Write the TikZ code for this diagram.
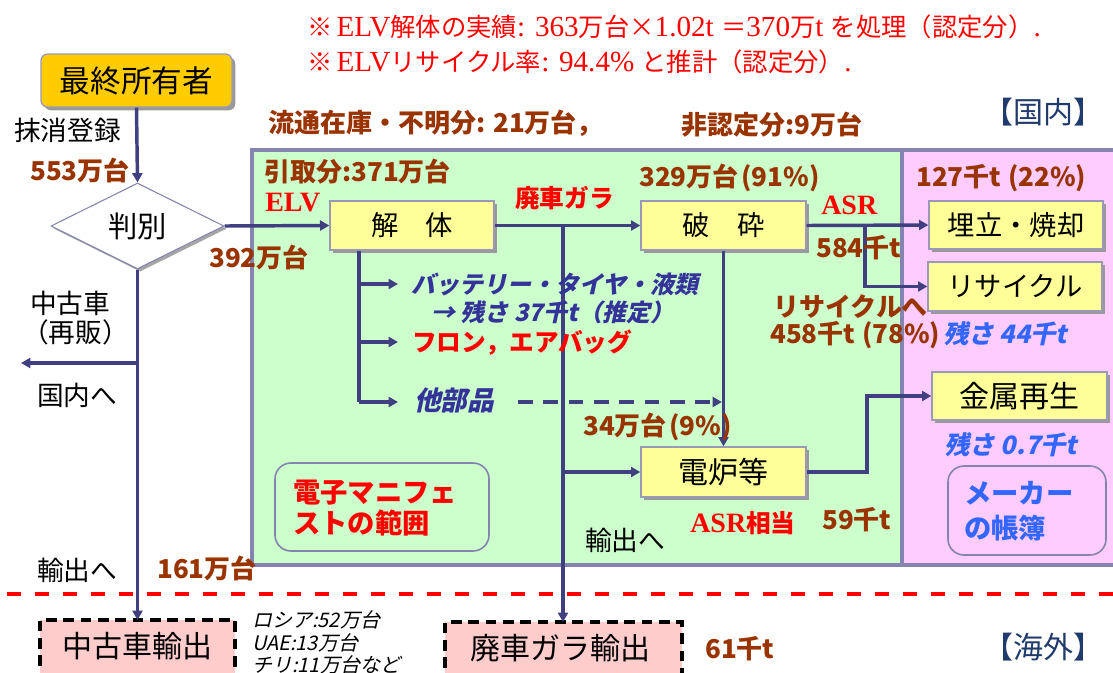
\documentclass[tikz,border=0pt]{standalone}
\usepackage{fontspec}
\setmainfont{Noto Sans CJK JP}
\newfontfamily\tnr{Liberation Serif}[Scale=1.15]
\newfontfamily\tnrb{Liberation Serif}
\newfontfamily\jpit{Noto Sans CJK JP}[FakeSlant=0.22]
\usetikzlibrary{shapes.geometric,arrows.meta,shadows}
\definecolor{brn}{HTML}{993300}
\definecolor{navy}{HTML}{404080}
\definecolor{lgreen}{HTML}{CCFFCC}
\definecolor{lpink}{HTML}{FFCCFF}
\definecolor{boxy}{HTML}{FFFF99}
\definecolor{gold}{HTML}{FFCC00}
\definecolor{regframe}{HTML}{8484AE}
\definecolor{bframe}{HTML}{9A9AB8}
\definecolor{pinkbox}{HTML}{FFCCCC}
\definecolor{lblue}{HTML}{3366FF}
\definecolor{dblue}{HTML}{333399}
\definecolor{hdblue}{HTML}{1F3A6B}
\tikzset{
  flow/.style={draw=navy, line width=2.6pt},
  arr/.style={flow, -{Triangle[length=7pt,width=7.5pt]}},
  shad/.style={drop shadow={opacity=1, fill=black!40, shadow xshift=2.5pt, shadow yshift=-2.5pt}},
  ybox/.style={draw=bframe, line width=1pt, fill=boxy, shad, inner sep=0pt,
    minimum width=124pt, minimum height=36.5pt, font=\fontsize{20.5}{24}\selectfont},
  gbox/.style={draw=bframe, line width=1pt, fill=gold, shad, rounded corners=5pt, inner sep=0pt,
    font=\fontsize{23}{27}\selectfont},
  dia/.style={diamond, draw=regframe, line width=0.8pt, fill=white, inner sep=0pt,
    drop shadow={opacity=1, fill=black!35, shadow xshift=2pt, shadow yshift=-2pt},
    font=\fontsize{22}{26}\selectfont},
  dfill/.style={fill=pinkbox, inner sep=0pt},
  dline/.style={draw=black, line width=3pt, dash pattern=on 8pt off 5pt},
  rbox/.style={draw=regframe, line width=1.2pt, rounded corners=12pt, inner sep=0pt},
  lbl/.style={anchor=west, inner sep=0pt, font=\fontsize{20}{23}\selectfont},
  bl/.style={anchor=west, inner sep=0pt, text=brn, font=\fontsize{19.5}{22}\selectfont\bfseries},
  rl/.style={anchor=west, inner sep=0pt, text=red, font=\fontsize{18.5}{22}\selectfont\bfseries},
  il/.style={anchor=west, inner sep=0pt, text=dblue, font=\fontsize{18}{21}\selectfont\jpit\bfseries},
  ll/.style={anchor=west, inner sep=0pt, text=lblue, font=\fontsize{19}{22}\selectfont\jpit\bfseries},
  sl/.style={anchor=west, inner sep=0pt, font=\fontsize{15}{17}\selectfont\jpit},
  hl/.style={anchor=west, inner sep=0pt, text=hdblue, font=\fontsize{22.5}{26}\selectfont},
  tl/.style={anchor=west, inner sep=0pt, text=red, font=\fontsize{19}{22}\selectfont},
  serl/.style={anchor=west, inner sep=0pt, text=red, font=\fontsize{21}{24}\selectfont\tnrb\bfseries},
}
\begin{document}
\begin{tikzpicture}[x=0.75pt,y=-0.75pt]
\useasboundingbox (0,0) rectangle (1113,672);
\clip (0,0) rectangle (1113,672);
% regions
\fill[lgreen] (252,150) rectangle (902,565);
\fill[lpink] (902,150) rectangle (1125,565);
\draw[regframe, line width=2.4pt] (1125,150) -- (252,150) -- (252,565) -- (1125,565);
\draw[regframe, line width=2.4pt] (902,150) -- (902,565);
% red dashed border line
\draw[red, line width=3pt, dash pattern=on 10.5pt off 10.5pt] (7,594) -- (1113,594);

% top notes
\node[tl] (note1) at (307,27) {※\hspace{3pt}{\tnr ELV}解体の実績{\tnr : 363}万台×{\tnr 1.02t }＝{\tnr 370}万{\tnr t }を処理（認定分）{\tnr .}};
\node[tl] (note2) at (307,62) {※\hspace{3pt}{\tnr ELV}リサイクル率{\tnr : 94.4\% }と推計（認定分）{\tnr .}};

% main nodes
\node[gbox, minimum width=143.25pt, minimum height=39.75pt] (owner) at (136.5,80.5) {最終所有者};
\node[dia, minimum width=129.75pt, minimum height=64.5pt] (hanbetsu) at (137.5,226) {判別};
\node[ybox, minimum width=123pt, minimum height=36.75pt] (kaitai) at (412,225.5) {解\hspace{1em}体};
\node[ybox, minimum width=123.75pt, minimum height=36.75pt] (hasai) at (723.5,225.5) {破\hspace{1em}砕};
\node[ybox, minimum width=130.5pt, minimum height=36pt] (umetate) at (1016,225) {埋立・焼却};
\node[ybox, minimum width=130.5pt, minimum height=36.75pt] (recycle) at (1015,286.5) {リサイクル};
\node[ybox, minimum width=131.25pt, minimum height=36pt, font=\fontsize{22.5}{26}\selectfont] (kinzoku) at (1019.5,396) {金属再生};
\node[ybox, minimum width=123.75pt, minimum height=37.5pt, font=\fontsize{22.5}{26}\selectfont] (denro) at (723.5,472) {電炉等};

\node[rbox, fill=lgreen, minimum width=160.5pt, minimum height=66pt] (manif) at (382,507) {};
\node[anchor=west, inner sep=0pt, align=left, text=red, font=\fontsize{20.5}{23.5}\selectfont\bfseries] (maniftxt) at (293,508) {電子マニフェ\\ストの範囲};
\node[rbox, fill=lpink, minimum width=118.5pt, minimum height=66.75pt] (maker) at (1027,510.5) {};
\node[anchor=west, inner sep=0pt, align=left, text=lblue, font=\fontsize{20.5}{26}\selectfont\bfseries] (makertxt) at (964,511) {メーカー\\の帳簿};

% export boxes (bottom edge lies below the picture)
\node[dfill, anchor=north, minimum width=146.25pt, minimum height=60pt] (usedx) at (137.5,620) {};
\draw[dline] (usedx.south west) -- (usedx.north west) -- (usedx.north east) -- (usedx.south east);
\node[inner sep=0pt, font=\fontsize{22.5}{26}\selectfont] (usedxt) at (137.5,646) {中古車輸出};
\node[dfill, anchor=north, minimum width=177.75pt, minimum height=60pt] (garax) at (563.5,622) {};
\draw[dline] (garax.south west) -- (garax.north west) -- (garax.north east) -- (garax.south east);
\node[inner sep=0pt, font=\fontsize{22.5}{26}\selectfont] (garaxt) at (560,648) {廃車ガラ輸出};

% connectors
\draw[arr] (owner.south) -- (hanbetsu.north);
\draw[arr] (hanbetsu.east) -- (kaitai.west);
\draw[arr] (hanbetsu.south) -- (usedx.north);
\coordinate (left) at (21,363);
\draw[arr] (left -| hanbetsu.south) -- (left);
\draw[arr] (kaitai.east) -- (hasai.west);
\coordinate (g1) at (563,225.5);
\draw[arr] (g1) -- (g1 |- garax.north);
\draw[arr] (g1 |- denro.west) -- (denro.west);
\coordinate (k3) at (359,402);
\coordinate (t1) at (398,284);
\coordinate (t2) at (398,342);
\coordinate (t3) at (398,402);
\draw[flow] (kaitai.south -| k3) -- (k3);
\draw[arr] (t1 -| k3) -- (t1);
\draw[arr] (t2 -| k3) -- (t2);
\draw[arr] (k3) -- (t3);
\coordinate (d0) at (518,402);
\draw[arr, dash pattern=on 11pt off 8pt] (d0) -- ([xshift=-1.2pt]hasai.south |- d0);
\draw[arr] (hasai.south) -- (denro.north);
\draw[arr] (hasai.east) -- (umetate.west);
\coordinate (a1) at (865,225);
\draw[arr] (a1) |- (recycle.west);
\coordinate (m1) at (867,472);
\draw[arr] (denro.east) -- (m1) |- (kinzoku.west);

% labels
\node[lbl] (l-massho) at (14,130) {抹消登録};
\node[bl] (l-553) at (30,170) {553万台};
\node[bl] (l-392) at (209,257) {392万台};
\node[lbl] (l-chuko) at (30,303) {中古車};
\node[lbl] (l-saihan) at (22,332) {（再販）};
\node[lbl] (l-kokunai) at (37,395) {国内へ};
\node[lbl] (l-yushutsu1) at (37,570) {輸出へ};
\node[bl] (l-161) at (157,568) {161万台};
\node[bl] (l-ryutsu) at (268,123) {流通在庫・不明分: 21万台，};
\node[bl] (l-hinintei) at (681,125) {非認定分:9万台};
\node[hl] (l-kokunaiH) at (983,112) {【国内】};
\node[bl] (l-hikitori) at (264,172) {引取分:371万台};
\node[serl] (l-elv) at (265,203) {ELV};
\node[rl] (l-gara) at (515,198) {廃車ガラ};
\node[bl] (l-329) at (639,178) {329万台\hspace{2pt}(91\%)};
\node[serl] (l-asr) at (821,205) {ASR};
\node[bl] (l-127) at (916,178) {127千t\hspace{5pt}(22\%)};
\node[bl] (l-584) at (816,248) {584千t};
\node[il] (l-battery) at (411,284) {バッテリー・タイヤ・液類};
\node[il] (l-zansa37) at (431,312) {→ 残さ 37千t（推定）};
\node[rl] (l-freon) at (412,343) {フロン，エアバッグ};
\node[il, font=\fontsize{20}{23}\selectfont\jpit\bfseries] (l-tabuhin) at (414,400) {他部品};
\node[bl] (l-recyhe) at (773,307) {リサイクルへ};
\node[bl] (l-458) at (770,335) {458千t\hspace{5pt}(78\%)};
\node[ll] (l-zansa44) at (943,334) {残さ 44千t};
\node[bl] (l-34) at (583,427) {34万台\hspace{2pt}(9\%)};
\node[ll] (l-zansa07) at (944,445) {残さ 0.7千t};
\node[rl] (l-asrsoto) at (690,523) {{\fontsize{21}{24}\selectfont\tnrb ASR}相当};
\node[bl] (l-59) at (822,520) {59千t};
\node[lbl] (l-yushutsu2) at (585,540) {輸出へ};
\node[sl] (l-russia) at (252,620) {ロシア:52万台};
\node[sl] (l-uae) at (252,643) {UAE:13万台};
\node[sl] (l-chile) at (252,665) {チリ:11万台など};
\node[bl] (l-61) at (705,649) {61千t};
\node[hl] (l-kaigai) at (983,647) {【海外】};
\end{tikzpicture}
\end{document}
